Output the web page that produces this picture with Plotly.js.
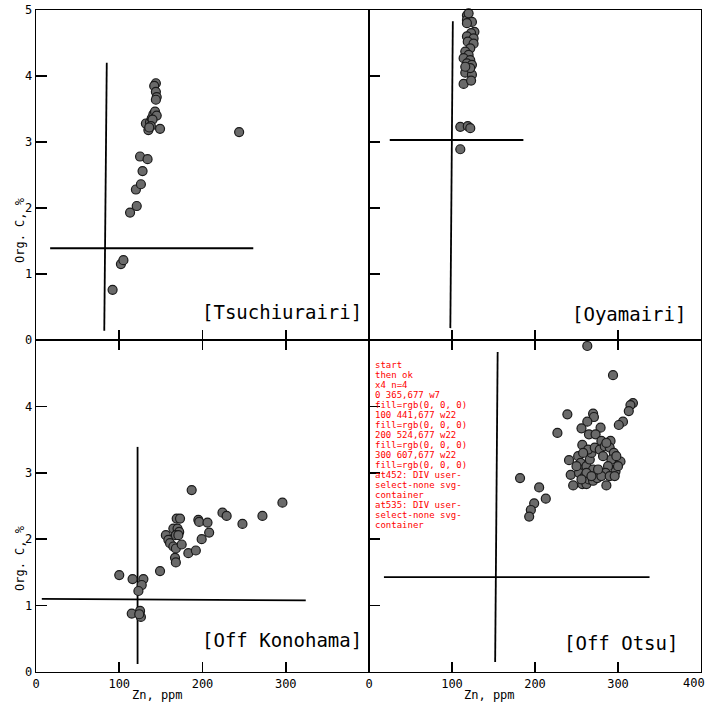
<!DOCTYPE html>
<html>
<head>
<meta charset="utf-8">
<script src="https://cdn.plot.ly/plotly-3.0.1.min.js"></script>
<style>html,body{margin:0;padding:0;background:#fff;}#chart{width:705px;height:710px;}#dbg{position:absolute;left:375px;top:360px;width:110px;font:9px monospace;white-space:pre-wrap;color:red;z-index:50;}</style>
</head>
<body>
<div id="chart"></div>
<div id="dbg">start</div>
<script>
window.onerror=function(m){document.getElementById('dbg').textContent+='\nERR '+m;};
const tsuchiuraZn = [92,102,105,113,121,120,126,128,125,134,149,244,135,132,137,139,141,143,145,140,138,136,144,142,144,145,144];
const tsuchiuraC  = [0.76,1.15,1.21,1.93,2.03,2.28,2.36,2.56,2.78,2.74,3.20,3.15,3.18,3.28,3.30,3.36,3.42,3.46,3.40,3.34,3.24,3.22,3.89,3.85,3.76,3.68,3.64];
const oyamaZn = [110,110,119,122,114,116,124,123,127,123,118,126,119,126,122,116,120,114,122,118,124,122,116,118,118,124,118,120];
const oyamaC  = [2.89,3.23,3.24,3.21,3.88,4.05,4.02,3.93,4.67,4.65,4.60,4.57,4.52,4.49,4.42,4.37,4.32,4.27,4.24,4.19,4.17,4.12,4.14,4.92,4.85,4.82,4.80,4.95];
const konoZn = [100,116,129,127,123,115,125,126,124,149,156,159,161,165,168,175,169,173,165,170,172,168,171,167,168,183,192,187,195,196,199,206,208,224,229,248,272,296];
const konoC  = [1.46,1.40,1.40,1.31,1.22,0.88,0.92,0.83,0.87,1.52,2.06,1.99,1.94,1.89,1.86,1.92,2.31,2.31,2.16,2.16,2.11,2.06,2.06,1.72,1.65,1.79,1.83,2.74,2.29,2.26,2.00,2.25,2.10,2.40,2.35,2.23,2.35,2.55];
const otsuZn = [263,294,318,315,313,239,270,271,263,256,279,306,301,227,265,273,257,280,291,182,205,213,199,195,193,241,243,246,257,262,286,303,297,
  252,255,258,253,260,265,270,275,262,266,268,264,272,278,284,290,295,292,288,285,280,290,296,270,258,250,262,276,282,298,268,256,286,300];
const otsuC  = [4.91,4.47,4.05,4.02,3.93,3.88,3.89,3.84,3.77,3.67,3.68,3.77,3.72,3.60,3.58,3.58,3.42,3.48,3.48,2.92,2.78,2.61,2.54,2.44,2.34,3.19,2.97,2.81,2.83,2.83,2.81,3.17,3.02,
  3.25,3.15,3.05,3.00,2.95,2.90,2.88,2.92,3.10,3.20,3.30,3.35,3.38,3.35,3.40,3.38,3.30,3.20,3.10,3.00,2.95,2.95,2.95,3.05,3.30,3.10,3.00,3.05,3.25,3.25,2.95,2.90,3.45,3.10];
const tsuHoriz = {zn:[17,261], c:[1.39,1.39]};
const tsuVert  = {zn:[85,82],  c:[4.2,0.14]};
const oyaHoriz = {zn:[25,186], c:[3.03,3.03]};
const oyaVert  = {zn:[101,98], c:[4.83,0.18]};
const konHoriz = {zn:[7,324],  c:[1.10,1.08]};
const konVert  = {zn:[122,122],c:[3.39,0.12]};
const otsHoriz = {zn:[18,338], c:[1.43,1.43]};
const otsVert  = {zn:[155,152],c:[4.82,0.15]};
const panelLabels = ["[Tsuchiurairi]","[Oyamairi]","[Off Konohama]","[Off Otsu]"];
const xTickVals = [0,100,200,300,400];
const yTickVals = [0,1,2,3,4,5];
const mono = "DejaVu Sans Mono, Liberation Mono, monospace";
const marker = {size:9, color:'#6a6a6a', line:{color:'#1a1a1a', width:1.2}};
const lineStyle = {color:'#000', width:1.8};
function pts(x,y,xa,ya){return {x:x,y:y,xaxis:xa,yaxis:ya,type:'scatter',mode:'markers',marker:marker,cliponaxis:false,hoverinfo:'skip'};}
function seg(s,xa,ya){return {x:s.zn,y:s.c,xaxis:xa,yaxis:ya,type:'scatter',mode:'lines',line:lineStyle,hoverinfo:'skip'};}
const data = [
  seg(tsuHoriz,'x','y'), seg(tsuVert,'x','y'), pts(tsuchiuraZn,tsuchiuraC,'x','y'),
  seg(oyaHoriz,'x2','y2'), seg(oyaVert,'x2','y2'), pts(oyamaZn,oyamaC,'x2','y2'),
  seg(konHoriz,'x3','y3'), seg(konVert,'x3','y3'), pts(konoZn,konoC,'x3','y3'),
  seg(otsHoriz,'x4','y4'), seg(otsVert,'x4','y4'), pts(otsuZn,otsuC,'x4','y4')
];
const W=705,H=710;
const xL=[36/W,369/W], xR=[369/W,701/W];
const yT=[1-340/H,1-10/H], yB=[1-672/H,1-340/H];
function xax(dom, anchor, labels, tickvals, mirror){
  return {domain:dom, anchor:anchor, range:[0,400], showgrid:false, zeroline:false,
    showline:true, linecolor:'#000', linewidth:1.3, mirror:mirror,
    ticks:'inside', ticklen:10, tickwidth:1.6, tickcolor:'#000',
    tickmode:'array', tickvals:tickvals, ticktext:tickvals.map(String),
    showticklabels:labels, ticklabeloverflow:'allow',
    tickfont:{family:mono, size:12, color:'#000'}};
}
function yax(dom, anchor, labels, tickvals){
  return {domain:dom, anchor:anchor, range:[0,5], showgrid:false, zeroline:false,
    showline:true, linecolor:'#000', linewidth:1.3, mirror:true,
    ticks:'inside', ticklen:11, tickwidth:1.6, tickcolor:'#000',
    tickmode:'array', tickvals:tickvals, showticklabels:labels, ticklabeloverflow:'allow',
    tickfont:{family:mono, size:12, color:'#000'}, ticklabelstandoff:0};
}
const annFont = {family:mono, size:19, color:'#000'};
const smallFont = {family:mono, size:12, color:'#000'};
const layout = {
  width:W, height:H, margin:{l:0,r:0,t:0,b:0}, showlegend:false,
  paper_bgcolor:'#fff', plot_bgcolor:'#fff',
  xaxis: xax(xL,'y', false, [100,200,300], true),
  yaxis: yax(yT,'x', true, yTickVals),
  xaxis2: xax(xR,'y2', false, [100,200,300], true),
  yaxis2: yax(yT,'x2', false, [1,2,3,4]),
  xaxis3: xax(xL,'y3', true, [0,100,200,300], 'ticks'),
  yaxis3: yax(yB,'x3', true, [0,1,2,3,4]),
  xaxis4: xax(xR,'y4', true, [0,100,200,300], 'ticks'),
  yaxis4: yax(yB,'x4', false, [1,2,3,4]),
  annotations:[
    {xref:'x', yref:'y', x:394, y:0.42, xanchor:'right', yanchor:'middle', text:panelLabels[0], showarrow:false, font:annFont},
    {xref:'x2', yref:'y2', x:384, y:0.4, xanchor:'right', yanchor:'middle', text:panelLabels[1], showarrow:false, font:annFont},
    {xref:'x3', yref:'y3', x:394, y:0.48, xanchor:'right', yanchor:'middle', text:panelLabels[2], showarrow:false, font:annFont},
    {xref:'x4', yref:'y4', x:375, y:0.44, xanchor:'right', yanchor:'middle', text:panelLabels[3], showarrow:false, font:annFont},
    {xref:'x4', yref:'paper', x:xTickVals[4], y:1-683/H, xanchor:'center', yanchor:'middle', xshift:-7, text:String(xTickVals[4]), showarrow:false, font:smallFont},
    {xref:'paper', yref:'paper', x:20/W, y:1-230/H, xanchor:'center', yanchor:'middle', text:'Org. C, %', textangle:-90, showarrow:false, font:smallFont},
    {xref:'paper', yref:'paper', x:20/W, y:1-558/H, xanchor:'center', yanchor:'middle', text:'Org. C, %', textangle:-90, showarrow:false, font:smallFont},
    {xref:'paper', yref:'paper', x:157/W, y:1-695/H, xanchor:'center', yanchor:'middle', text:'Zn, ppm', showarrow:false, font:smallFont},
    {xref:'paper', yref:'paper', x:489/W, y:1-695/H, xanchor:'center', yanchor:'middle', text:'Zn, ppm', showarrow:false, font:smallFont}
  ]
};
const dbg=document.getElementById('dbg');
try{
Plotly.newPlot('chart', data, layout, {staticPlot:true, displayModeBar:false}).then(function(gd){
  let out='\nthen ok\n';
  const t=gd.querySelectorAll('.x4tick text');
  out+='x4 n='+t.length+'\n';
  t.forEach(function(e){const b=e.getBoundingClientRect();out+=e.textContent+' '+Math.round(b.x)+','+Math.round(b.y)+' w'+Math.round(b.width)+' fill='+e.style.fill+'\n';});
  const el=document.elementFromPoint(452,683);
  out+='at452: '+(el?el.tagName+' '+(el.getAttribute('class')||''):'none')+'\n';
  const el2=document.elementFromPoint(535,683);
  out+='at535: '+(el2?el2.tagName+' '+(el2.getAttribute('class')||''):'none');
  dbg.textContent+=out;
}, function(err){dbg.textContent+='\nREJ '+err;});
}catch(e){dbg.textContent+='\nCATCH '+e;}
</script>
</body>
</html>
